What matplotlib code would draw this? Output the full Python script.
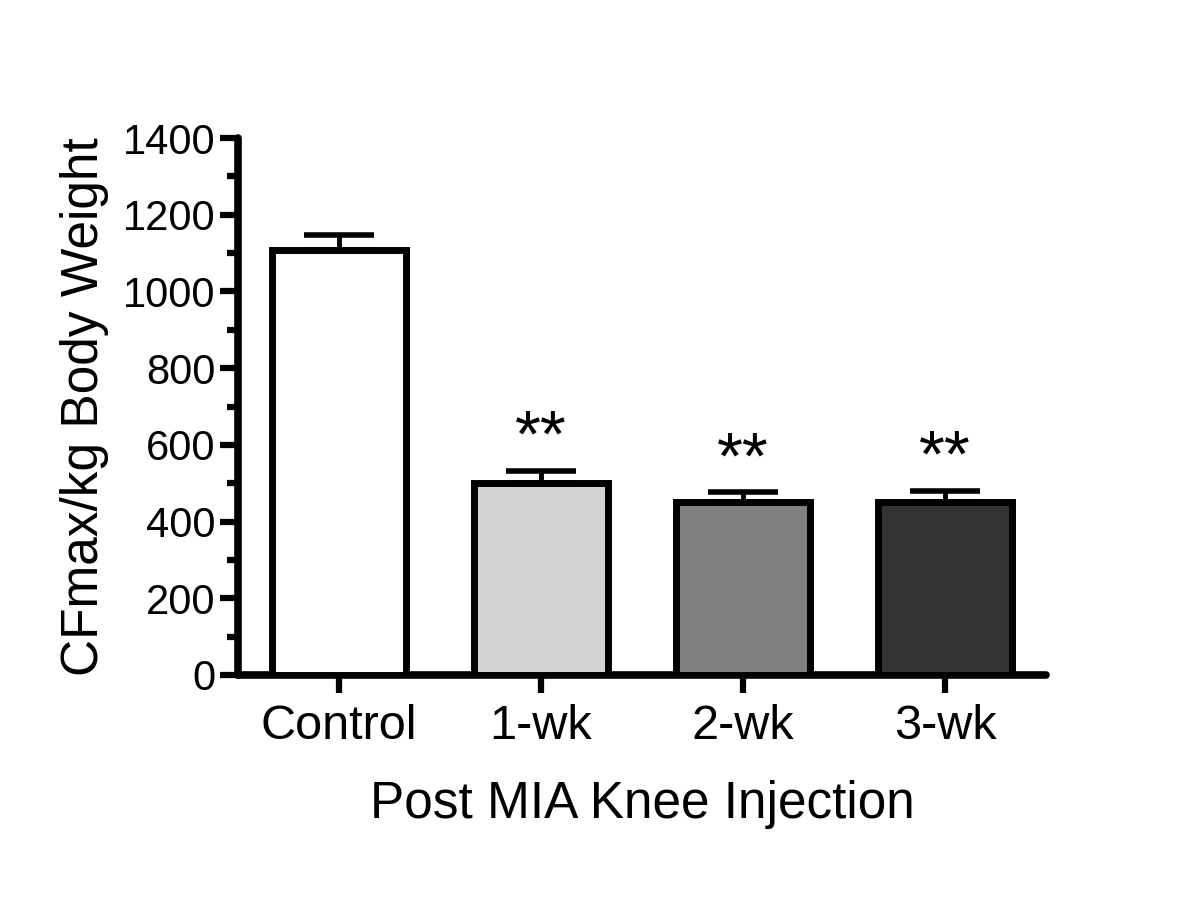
import matplotlib
matplotlib.use("Agg")
import matplotlib.pyplot as plt
from matplotlib.ticker import MultipleLocator

plt.rcParams['font.family'] = ['Liberation Sans', 'DejaVu Sans']

categories = ["Control", "1-wk", "2-wk", "3-wk"]
means = [1108, 500, 451, 450]
sems = [39, 32, 26, 30]
significance = ["", "**", "**", "**"]
bar_colors = ["#ffffff", "#d4d4d4", "#808080", "#333333"]
y_ticks = [0, 200, 400, 600, 800, 1000, 1200, 1400]

fig = plt.figure(figsize=(12, 9), dpi=100)
ax = fig.add_axes([238/1200, 1 - 675/900, (1046-238)/1200, 537/900])

x = list(range(len(categories)))
ax.bar(x, means, width=0.66, color=bar_colors, edgecolor="black",
       linewidth=5, zorder=3)
ax.errorbar(x, means, yerr=[[0]*len(sems), sems], fmt="none",
            ecolor="black", elinewidth=3.5, capsize=25, capthick=4,
            zorder=2)
for xi, m, s, sig in zip(x, means, sems, significance):
    if sig:
        ax.annotate(sig, xy=(xi, m + s), xytext=(0, 0),
                    textcoords="offset points", ha="center", va="bottom",
                    fontsize=48)

ax.set_xlim(-0.5, 3.5)
ax.set_ylim(0, 1400)
ax.set_yticks(y_ticks)
ax.yaxis.set_minor_locator(MultipleLocator(100))
ax.set_xticks(x)
ax.set_xticklabels(categories, fontsize=35)
ax.tick_params(axis="y", labelsize=30, width=4.5, length=13, pad=3)
ax.tick_params(axis="y", which="minor", width=4.5, length=8)
ax.tick_params(axis="x", width=4.5, length=13, pad=8)

for side in ("top", "right"):
    ax.spines[side].set_visible(False)
for side in ("left", "bottom"):
    ax.spines[side].set_linewidth(5.5)
    ax.spines[side].set_capstyle("round")

ax.set_ylabel("CFmax/kg Body Weight", fontsize=37, labelpad=10)
ax.set_xlabel("Post MIA Knee Injection", fontsize=37, labelpad=22)

fig.savefig("out.png", dpi=100)
